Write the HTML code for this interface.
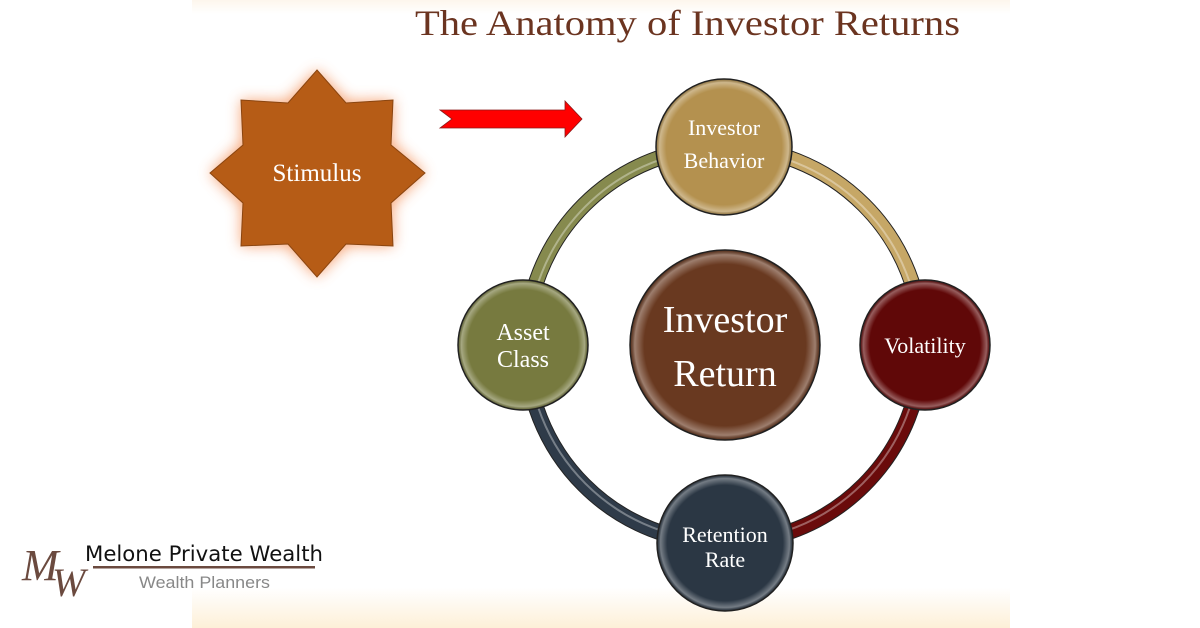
<!DOCTYPE html>
<html><head><meta charset="utf-8"><style>
html,body{margin:0;padding:0;background:#fff;}
svg{display:block;}
</style></head><body>
<svg width="1200" height="628" viewBox="0 0 1200 628" xmlns="http://www.w3.org/2000/svg">
<defs>
<linearGradient id="bot" x1="0" y1="0" x2="0" y2="1"><stop offset="0" stop-color="#fff"/><stop offset="1" stop-color="#fdf0d8"/></linearGradient>
<linearGradient id="top" x1="0" y1="0" x2="0" y2="1"><stop offset="0" stop-color="#fdf6ec"/><stop offset="1" stop-color="#fff"/></linearGradient>
<filter id="glow" x="-30%" y="-30%" width="160%" height="160%"><feGaussianBlur stdDeviation="7"/></filter>
<radialGradient id="shine" cx="0.5" cy="0.5" r="0.5"><stop offset="0.85" stop-color="#fff" stop-opacity="0"/><stop offset="0.95" stop-color="#fff" stop-opacity="0.35"/><stop offset="1" stop-color="#000" stop-opacity="0.2"/></radialGradient>
</defs>
<rect x="192" y="0" width="818" height="14" fill="url(#top)"/>
<rect x="192" y="588" width="818" height="40" fill="url(#bot)"/>
<text x="415" y="35" font-family="Liberation Serif, serif" font-size="36" fill="#6b3420" textLength="545" lengthAdjust="spacingAndGlyphs">The Anatomy of Investor Returns</text>

<g>
<polygon points="317,70 348,101 393,100 393,143 425,173 393,205 393,246 348,246 317,277 286,246 241,246 241,205 210,173 241,143 241,100 286,101" fill="#f48a50" opacity="0.75" filter="url(#glow)"/>
<polygon points="317,70 346,103 393,100 391,145 425,173 391,203 393,246 346,244 317,277 288,244 241,246 243,203 210,173 243,145 241,100 288,103" fill="#b65c16" stroke="#8a4510" stroke-width="1"/>
<text x="317" y="181" text-anchor="middle" font-family="Liberation Serif, serif" font-size="25" fill="#fff">Stimulus</text>
</g>

<polygon points="440,110 565,110 565,101 582,119 565,137 565,128 440,128 452,119" fill="#f00" stroke="#8a1a1a" stroke-width="0.8"/>

<g fill="none" stroke-width="14">
<path d="M724,147 A198,198 0 0 0 526,345" stroke="#222" stroke-width="16"/>
<path d="M724,147 A198,198 0 0 0 526,345" stroke="#868a4e"/>
<path d="M724,147 A198,198 0 0 1 922,345" stroke="#222" stroke-width="16"/>
<path d="M724,147 A198,198 0 0 1 922,345" stroke="#c6a766"/>
<path d="M922,345 A198,198 0 0 1 724,543" stroke="#222" stroke-width="16"/>
<path d="M922,345 A198,198 0 0 1 724,543" stroke="#6a0b0b"/>
<path d="M724,543 A198,198 0 0 1 526,345" stroke="#222" stroke-width="16"/>
<path d="M724,543 A198,198 0 0 1 526,345" stroke="#2f3b49"/>
</g>
<g fill="none" stroke="#fff" stroke-opacity="0.35" stroke-width="2">
<circle cx="724" cy="345" r="196"/>
</g>

<g font-family="Liberation Serif, serif" fill="#fff" text-anchor="middle">
<circle cx="724" cy="147" r="68" fill="#b4914f" stroke="#222" stroke-width="1.5"/>
<circle cx="724" cy="147" r="68" fill="url(#shine)"/>
<text x="724" y="135" font-size="22">Investor</text>
<text x="724" y="168" font-size="22">Behavior</text>

<circle cx="523" cy="345" r="65" fill="#777a3f" stroke="#222" stroke-width="1.5"/>
<circle cx="523" cy="345" r="65" fill="url(#shine)"/>
<text x="523" y="340" font-size="24">Asset</text>
<text x="523" y="367" font-size="24">Class</text>

<circle cx="925" cy="345" r="65" fill="#600808" stroke="#222" stroke-width="1.5"/>
<circle cx="925" cy="345" r="65" fill="url(#shine)"/>
<text x="925" y="353" font-size="22">Volatility</text>

<circle cx="725" cy="543" r="68" fill="#2b3744" stroke="#222" stroke-width="1.5"/>
<circle cx="725" cy="543" r="68" fill="url(#shine)"/>
<text x="725" y="542" font-size="22">Retention</text>
<text x="725" y="567" font-size="22">Rate</text>

<circle cx="725" cy="345" r="95" fill="#693920" stroke="#222" stroke-width="1.5"/>
<circle cx="725" cy="345" r="95" fill="url(#shine)"/>
<text x="725" y="332" font-size="38">Investor</text>
<text x="725" y="386" font-size="38">Return</text>
</g>

<text x="22" y="580" font-family="Liberation Serif, serif" font-style="italic" font-size="44" fill="#6b4a3f">M</text>
<text x="52" y="596" font-family="Liberation Serif, serif" font-style="italic" font-size="40" fill="#6b4a3f">W</text>
<text x="85" y="561" font-family="DejaVu Sans, sans-serif" font-size="21" fill="#111" textLength="238" lengthAdjust="spacingAndGlyphs">Melone Private Wealth</text>
<rect x="93" y="566" width="222" height="2.5" fill="#6b4a3f"/>
<text x="139" y="588" font-family="Liberation Sans, sans-serif" font-size="17" fill="#888" textLength="131" lengthAdjust="spacingAndGlyphs">Wealth Planners</text>
</svg>
</body></html>
